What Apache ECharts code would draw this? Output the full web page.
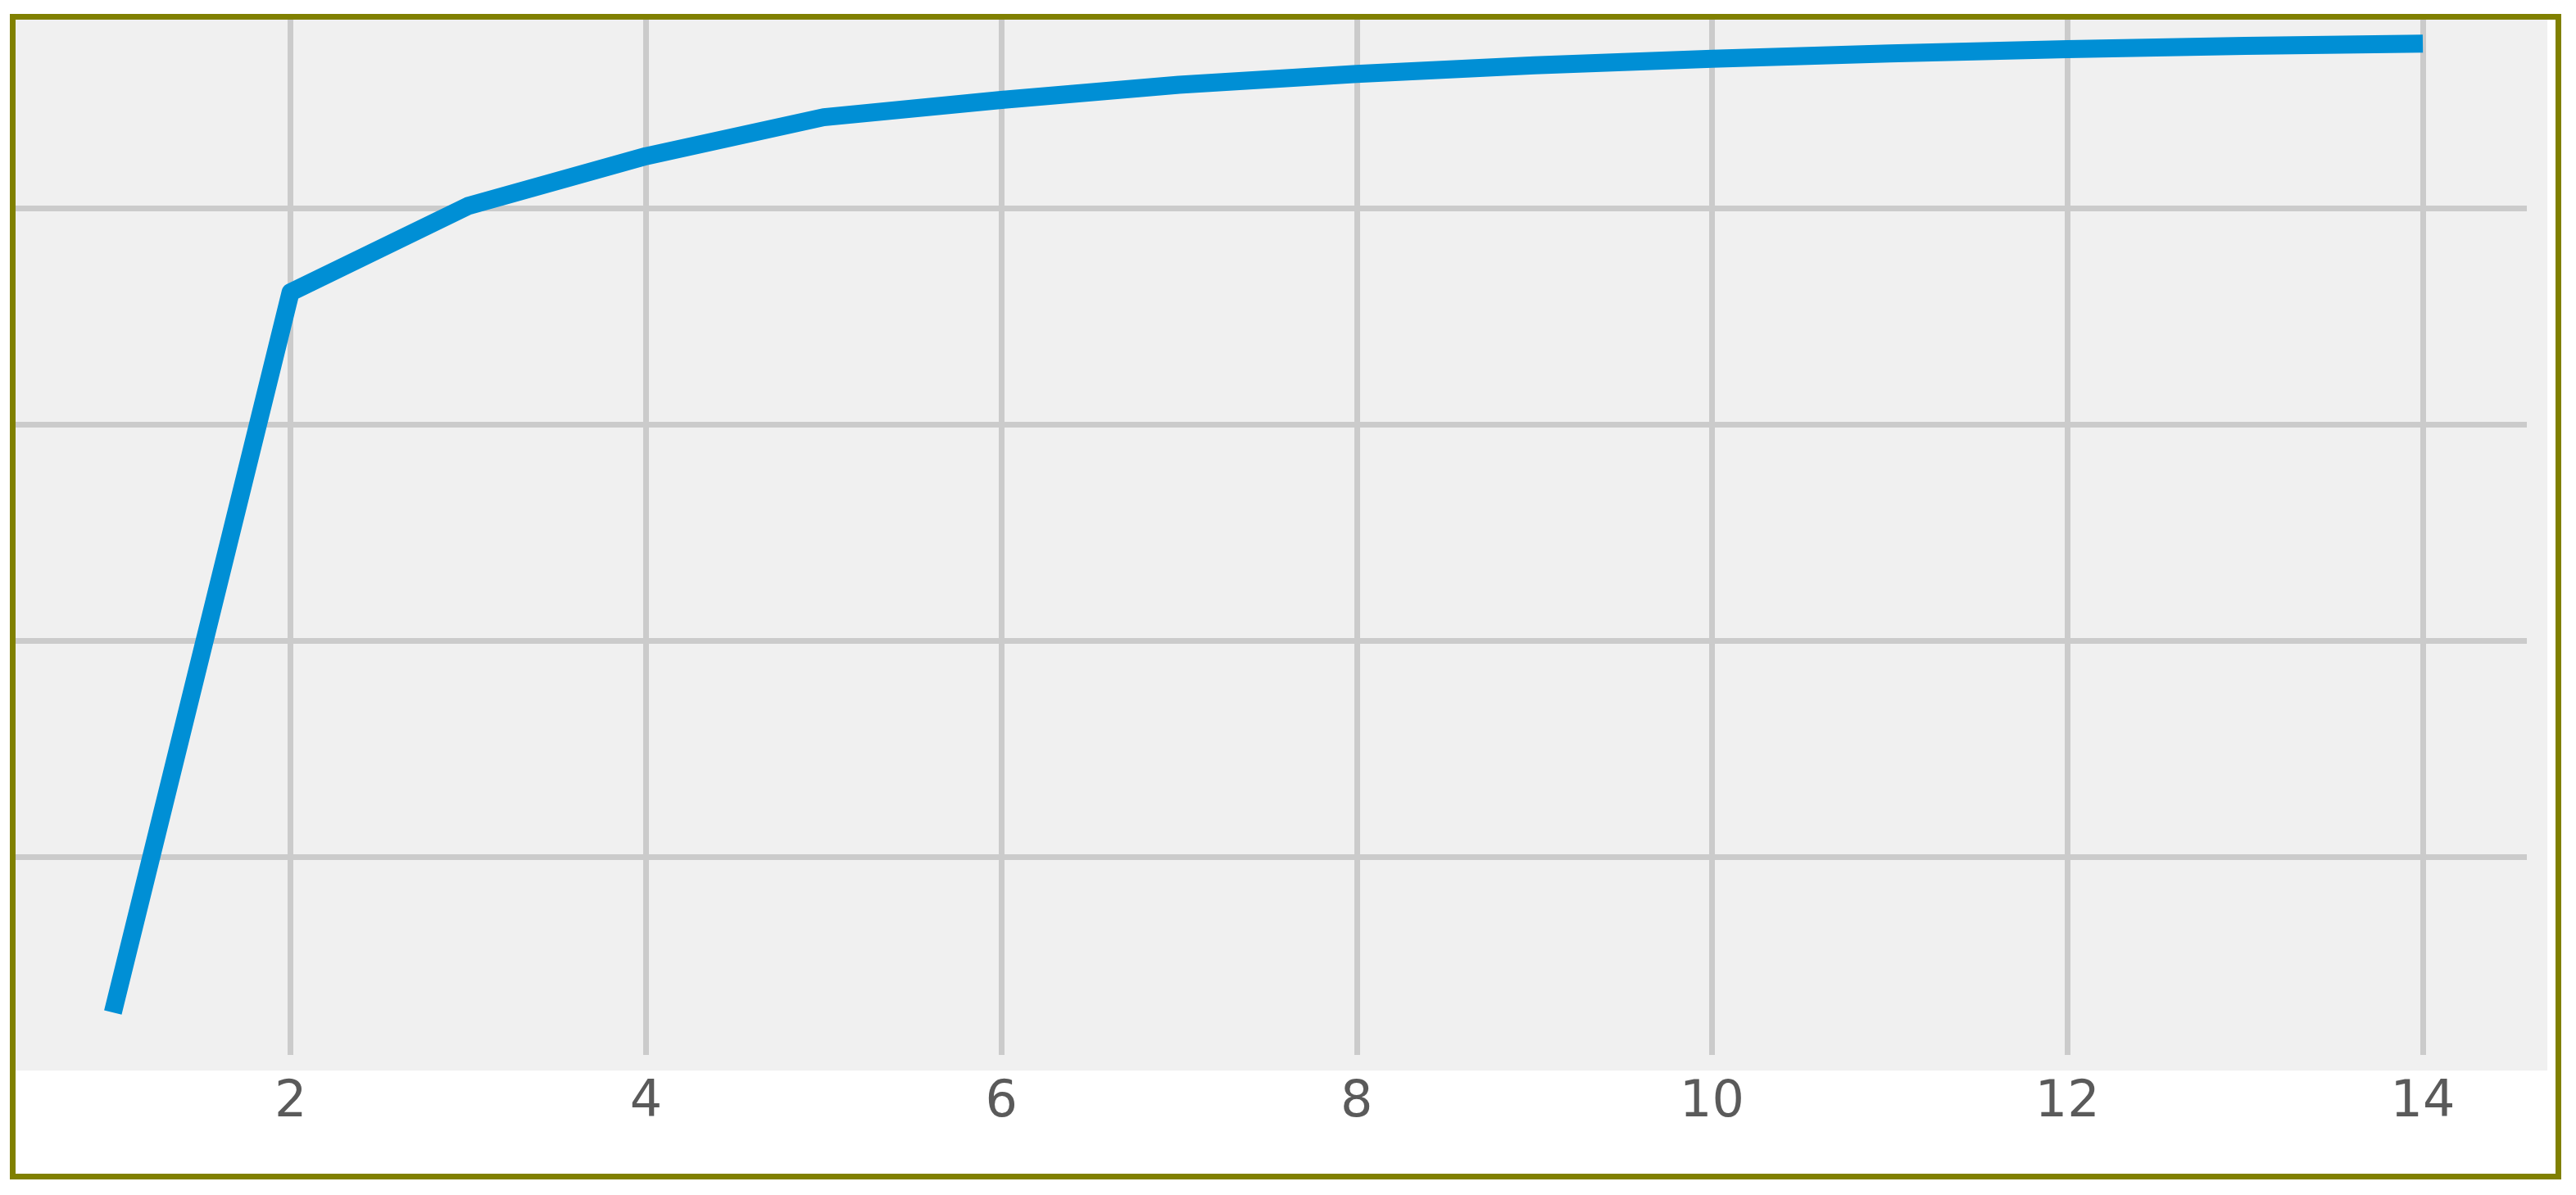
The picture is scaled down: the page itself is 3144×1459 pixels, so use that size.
<!DOCTYPE html>
<html>
<head>
<meta charset="utf-8">
<script src="https://cdn.jsdelivr.net/npm/echarts@6/dist/echarts.min.js"></script>
<style>
    html, body { margin: 0; padding: 0; background: #ffffff; }
    #mychart { width: 3144px; height: 1459px; }
</style>
</head>
<body>
<div id="mychart"></div>
<script>
// data
var xValues = [1, 2, 3, 4, 5, 6, 7, 8, 9, 10, 11, 12, 13, 14];
var yValues = [0.528, 0.861, 0.901, 0.924, 0.942, 0.950, 0.957, 0.962, 0.966, 0.969, 0.9715, 0.9735, 0.975, 0.976];
var xTicks = [2, 4, 6, 8, 10, 12, 14];
var yTicks = [0.6, 0.7, 0.8, 0.9]; // labels are cropped off in the original

var myChart = echarts.init(document.getElementById('mychart'));

var points = [];
for (var i = 0; i < xValues.length; i++) {
    points.push([xValues[i], yValues[i]]);
}

var option = {
    animation: false,
    backgroundColor: '#ffffff',
    grid: {
        left: 12,
        right: 60,
        top: 20,
        bottom: 171
    },
    graphic: {
        elements: [
            { // grey figure background
                type: 'rect',
                z: -10,
                silent: true,
                shape: { x: 19, y: 23, width: 3090, height: 1284 },
                style: { fill: '#f0f0f0' }
            },
            { // olive frame
                type: 'rect',
                z: 100,
                silent: true,
                shape: { x: 15.5, y: 20.5, width: 3107, height: 1416 },
                style: { fill: 'none', stroke: '#808000', lineWidth: 7 }
            }
        ]
    },
    xAxis: {
        type: 'value',
        min: 0.42,
        max: 14.5855,
        axisLine: { show: false },
        axisTick: { show: false, customValues: xTicks },
        axisLabel: {
            customValues: xTicks,
            margin: 28,
            fontSize: 62,
            fontFamily: 'DejaVu Sans',
            color: '#5a5a5a'
        },
        splitLine: {
            show: true,
            lineStyle: { color: '#cbcbcb', width: 7 }
        }
    },
    yAxis: {
        type: 'value',
        min: 0.50833,
        max: 0.98864,
        axisLine: { show: false },
        axisTick: { show: false, customValues: yTicks },
        axisLabel: { show: false, customValues: yTicks },
        splitLine: {
            show: true,
            lineStyle: { color: '#cbcbcb', width: 7 }
        }
    },
    series: [{
        type: 'line',
        data: points,
        symbol: 'none',
        lineStyle: {
            color: '#008fd5',
            width: 22,
            cap: 'butt',
            join: 'round'
        }
    }]
};

myChart.setOption(option);
</script>
</body>
</html>
